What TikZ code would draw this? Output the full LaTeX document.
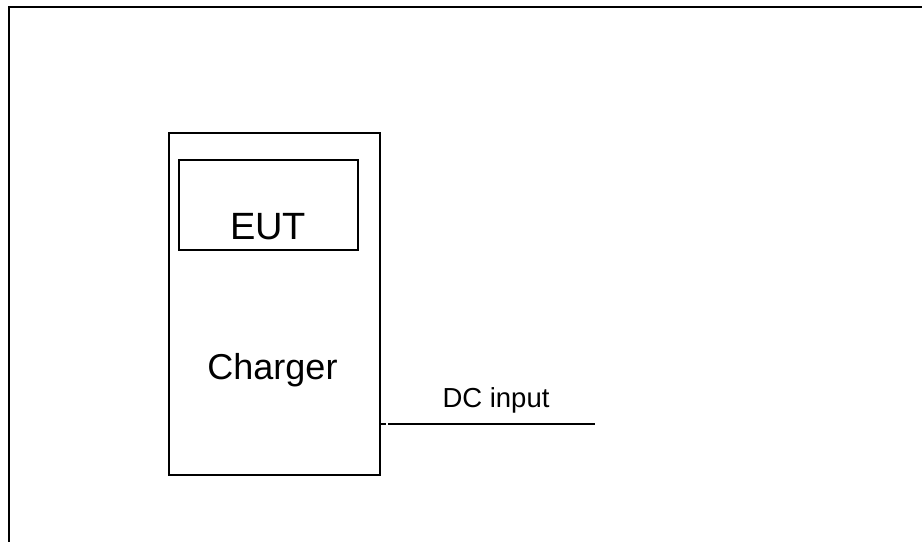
\documentclass[tikz,border=0pt]{standalone}
\usepackage{fontspec}
\setmainfont{Liberation Sans}
\begin{document}
\begin{tikzpicture}[x=1pt,y=-1pt,
  box/.style={draw=black,line width=1.8pt,inner sep=0pt,anchor=north west},
  frameline/.style={draw=black,line width=2.2pt},
  wire/.style={draw=black,line width=1.6pt},
  lbl/.style={inner sep=0pt,anchor=base}]
\useasboundingbox (0,0) rectangle (922,542);
% outer frame (top and left edges only)
\coordinate (ftl) at (9,7);
\coordinate (ftr) at (922,7);
\coordinate (fbl) at (9,542);
\draw[frameline] (ftr) -- (ftl) -- (fbl);
% charger box
\node[box,minimum width=211pt,minimum height=342pt] (charger) at (168,132) {};
% EUT box
\node[box,minimum width=179pt,minimum height=90pt] (eut) at (178,159) {};
% labels
\node[lbl,font=\fontsize{38}{38}\selectfont] (eutlbl) at (268,239) {EUT};
\node[lbl,font=\fontsize{36}{36}\selectfont] (chglbl) at (272.5,379) {Charger};
\node[lbl,font=\fontsize{27.5}{27.5}\selectfont] (dclbl) at (496,407) {DC input};
% DC input wire
\coordinate (tickend) at (386,424);
\coordinate (wirestart) at (388,424);
\coordinate (dcend) at (595,424);
\draw[wire] (charger.east |- tickend) -- (tickend);
\draw[wire] (wirestart) -- (dcend);
\end{tikzpicture}
\end{document}
